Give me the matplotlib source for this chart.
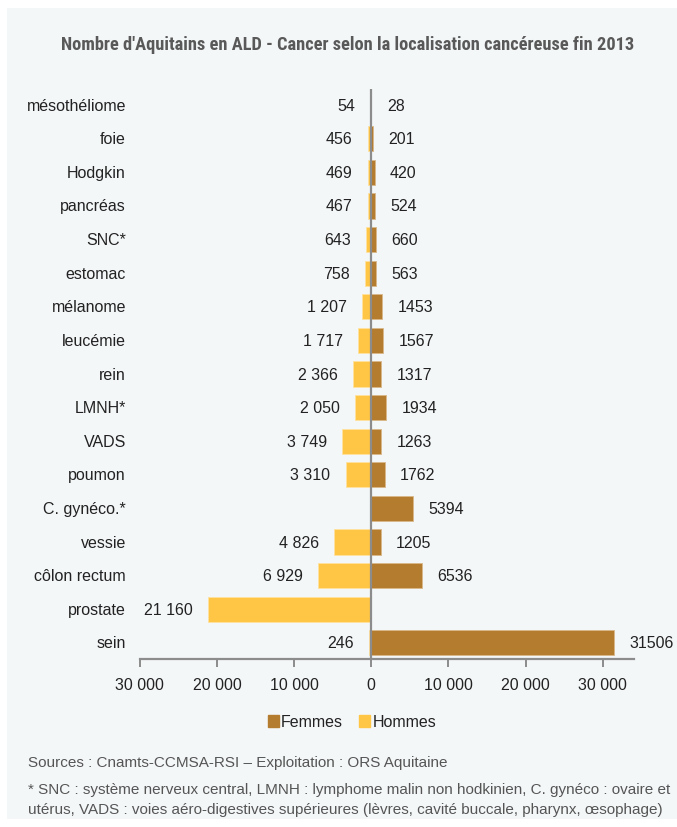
import matplotlib
matplotlib.use("Agg")
import matplotlib.pyplot as plt
from matplotlib.patches import Rectangle
from matplotlib.ticker import FuncFormatter

# ALD cancer counts by site, end of 2013 (top row first)
categories = ["mésothéliome", "foie", "Hodgkin", "pancréas", "SNC*", "estomac",
              "mélanome", "leucémie", "rein", "LMNH*", "VADS", "poumon",
              "C. gynéco.*", "vessie", "côlon rectum", "prostate", "sein"]
hommes = [54, 456, 469, 467, 643, 758, 1207, 1717, 2366, 2050, 3749, 3310,
          0, 4826, 6929, 21160, 246]
femmes = [28, 201, 420, 524, 660, 563, 1453, 1567, 1317, 1934, 1263, 1762,
          5394, 1205, 6536, 0, 31506]

col_f = "#B47C2E"
col_h = "#FFC645"
bg = "#F4F7F8"
grey = "#8C8C8C"
txt = "#222222"
fs = 11.5

plt.rcParams["font.family"] = ["Liberation Sans", "DejaVu Sans"]

fig = plt.figure(figsize=(6.77, 8.28), dpi=100)
fig.patch.set_facecolor("white")
fig.patches.append(Rectangle((7 / 677, 8 / 828), 1, 1 - 17 / 828,
                             transform=fig.transFigure, facecolor=bg,
                             edgecolor="none", zorder=-10))

ax = fig.add_axes([139.7 / 677, 168 / 828, 494 / 677, 570 / 828])
ax.set_facecolor("none")

n = len(categories)
ypos = [n - 1 - i for i in range(n)]

ax.barh(ypos, [-h for h in hommes], height=0.75, color=col_h,
        edgecolor="#FFE2A0", linewidth=0.6)
ax.barh(ypos, femmes, height=0.75, color=col_f,
        edgecolor="#D9B88A", linewidth=0.6)
ax.axvline(0, color=grey, lw=1.6, zorder=3)

def fmt_space(v):
    return f"{v:,}".replace(",", " ")

for y, h, f in zip(ypos, hommes, femmes):
    if h:
        ax.annotate(fmt_space(h), (-h, y), xytext=(-11, 0),
                    textcoords="offset points", ha="right", va="center",
                    fontsize=fs, color=txt)
    if f:
        ax.annotate(str(f), (f, y), xytext=(11, 0),
                    textcoords="offset points", ha="left", va="center",
                    fontsize=fs, color=txt)

ax.set_xlim(-30000, 34000)
ax.set_ylim(-0.48, n - 0.52)
ax.set_xticks(range(-30000, 30001, 10000))
ax.xaxis.set_major_formatter(FuncFormatter(lambda v, p: fmt_space(abs(int(v)))))
ax.set_yticks([])

for s in ["top", "right", "left"]:
    ax.spines[s].set_visible(False)
ax.spines["bottom"].set_color(grey)
ax.spines["bottom"].set_linewidth(1.6)
ax.tick_params(axis="x", direction="out", length=6, width=1.4, color=grey,
               labelsize=fs, labelcolor=txt, pad=7)

for y, c in zip(ypos, categories):
    ax.annotate(c, (0, y), xycoords=("figure fraction", "data"),
                xytext=(126, 0), textcoords="offset pixels",
                ha="right", va="center", fontsize=fs, color=txt)

# narrow bold title: shrink the size until it spans about 576 px
title = fig.text(348 / 677, 1 - 45 / 828,
                 "Nombre d'Aquitains en ALD - Cancer selon la localisation cancéreuse fin 2013",
                 ha="center", va="center", fontsize=14, fontweight="bold",
                 color="#595959",
                 family=["Roboto Condensed", "DejaVu Sans Condensed",
                         "Liberation Sans Narrow", "Liberation Sans"])
renderer = fig.canvas.get_renderer()
w = title.get_window_extent(renderer).width
if w > 576:
    title.set_fontsize(14 * 576 / w)

handles = [Rectangle((0, 0), 1, 1, color=col_f), Rectangle((0, 0), 1, 1, color=col_h)]
fig.legend(handles, ["Femmes", "Hommes"], loc="center", ncol=2,
           bbox_to_anchor=(352 / 677, 1 - 723 / 828), frameon=False,
           fontsize=fs, handlelength=0.7, handleheight=0.7,
           handletextpad=0.15, columnspacing=1.0, labelcolor=txt)

note = "#555555"
fig.text(28 / 677, 1 - 763 / 828,
         "Sources : Cnamts-CCMSA-RSI – Exploitation : ORS Aquitaine",
         ha="left", va="center", fontsize=11, color=note)
fig.text(28 / 677, 1 - 790 / 828,
         "* SNC : système nerveux central, LMNH : lymphome malin non hodkinien, "
         "C. gynéco : ovaire et",
         ha="left", va="center", fontsize=11, color=note)
fig.text(28 / 677, 1 - 810 / 828,
         "utérus, VADS : voies aéro-digestives supérieures (lèvres, cavité buccale, "
         "pharynx, œsophage)",
         ha="left", va="center", fontsize=11, color=note)

fig.savefig("out.png", dpi=100, facecolor=fig.get_facecolor())
